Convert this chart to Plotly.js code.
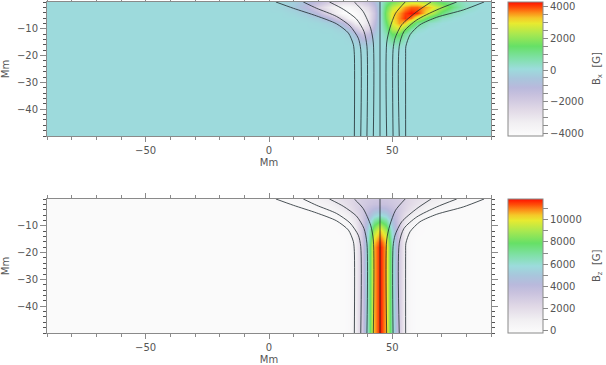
<!DOCTYPE html>
<html><head><meta charset="utf-8">
<script src="https://cdn.plot.ly/plotly-3.0.1.min.js"></script>
<style>html,body{margin:0;padding:0;background:#fff}</style></head>
<body><div id="chart" style="width:606px;height:365px"></div>
<script>
const xGrid=[-90,0,5,10,15,20,25,30,32.5,35,37.5,40,42.5,45,47.5,50,52.5,55,57.5,60,65,70,75,80,85,90];
const yGrid=[0,-2,-4,-6,-8,-10,-12,-14,-16,-18,-25,-50];
const bxValues=[
[0,0,-80,-300,-800,-1400,-2200,-2700,-2700,-2500,-2100,-1700,-1000,0,1000,1700,2100,2500,2700,2700,2200,1400,800,300,80,0],
[0,0,-100,-400,-1100,-2200,-3300,-3800,-3800,-3500,-3000,-2500,-1500,0,1500,2500,3000,3500,3800,3800,3300,2200,1100,400,100,0],
[0,0,0,-120,-400,-1300,-2800,-4100,-4300,-4000,-3500,-3000,-1800,0,1800,3000,3500,4000,4300,4100,2800,1300,400,120,0,0],
[0,0,0,0,-100,-350,-1300,-2700,-3700,-4100,-3600,-3000,-1700,0,1700,3000,3600,4100,3700,2700,1300,350,100,0,0,0],
[0,0,0,0,0,-60,-300,-1100,-2100,-3200,-3500,-2800,-1400,0,1400,2800,3500,3200,2100,1100,300,60,0,0,0,0],
[0,0,0,0,0,0,-40,-300,-800,-1800,-2700,-2300,-1000,0,1000,2300,2700,1800,800,300,40,0,0,0,0,0],
[0,0,0,0,0,0,0,-60,-250,-800,-1600,-1500,-600,0,600,1500,1600,800,250,60,0,0,0,0,0,0],
[0,0,0,0,0,0,0,0,-60,-350,-900,-900,-300,0,300,900,900,350,60,0,0,0,0,0,0,0],
[0,0,0,0,0,0,0,0,0,-100,-350,-400,-120,0,120,400,350,100,0,0,0,0,0,0,0,0],
[0,0,0,0,0,0,0,0,0,0,-60,-100,-30,0,30,100,60,0,0,0,0,0,0,0,0,0],
[0,0,0,0,0,0,0,0,0,0,0,0,0,0,0,0,0,0,0,0,0,0,0,0,0,0],
[0,0,0,0,0,0,0,0,0,0,0,0,0,0,0,0,0,0,0,0,0,0,0,0,0,0]];
const bzValues=[
[0,0,100,280,550,900,1350,1900,2150,2500,2800,3000,3150,3200,3150,3000,2800,2500,2150,1900,1350,900,550,280,100,0],
[0,0,30,100,280,550,1000,1650,2050,2450,2850,3200,3450,3500,3450,3200,2850,2450,2050,1650,1000,550,280,100,30,0],
[0,0,0,0,50,200,500,1150,1650,2300,3000,3700,4400,4700,4400,3700,3000,2300,1650,1150,500,200,50,0,0,0],
[0,0,0,0,0,30,150,600,1100,1900,3000,4200,5400,5900,5400,4200,3000,1900,1100,600,150,30,0,0,0,0],
[0,0,0,0,0,0,50,300,700,1500,2900,4700,6700,7500,6700,4700,2900,1500,700,300,50,0,0,0,0,0],
[0,0,0,0,0,0,0,150,450,1200,3000,5200,8000,9300,8000,5200,3000,1200,450,150,0,0,0,0,0,0],
[0,0,0,0,0,0,0,80,300,1000,3000,5700,9000,10400,9000,5700,3000,1000,300,80,0,0,0,0,0,0],
[0,0,0,0,0,0,0,30,200,900,3000,6000,9800,11000,9800,6000,3000,900,200,30,0,0,0,0,0,0],
[0,0,0,0,0,0,0,0,150,900,3000,6300,10300,11500,10300,6300,3000,900,150,0,0,0,0,0,0,0],
[0,0,0,0,0,0,0,0,150,900,3000,6500,10600,11800,10600,6500,3000,900,150,0,0,0,0,0,0,0],
[0,0,0,0,0,0,0,0,150,900,3000,6500,10600,11800,10600,6500,3000,900,150,0,0,0,0,0,0,0],
[0,0,0,0,0,0,0,0,150,900,3000,6500,10600,11800,10600,6500,3000,900,150,0,0,0,0,0,0,0]];
const line1x=[2.8,9.9,19.3,27.4,32.2,34.2,34.6,34.6], line1y=[0,-2.35,-5.2,-8.15,-11.6,-15.9,-19.6,-50];
const line2x=[13.9,19.3,27.4,32.8,36.2,37.2,37.2], line2y=[0,-2.35,-5.4,-8.9,-13.5,-17.8,-50];
const line3x=[24.5,30.1,35.5,38.5,39.7,39.7], line3y=[0,-2.7,-6.4,-11,-16.5,-50];
const line4x=[34.6,38.2,41.2,42.3,42.3], line4y=[0,-3.6,-9.75,-15.3,-50];
const line5x=[45,45], line5y=[0,-50];
const line6x=[55.2,51.3,49,47.7,47.7], line6y=[0,-4.2,-9.75,-15.3,-50];
const line7x=[65.7,59.9,53.8,51.1,50.3,50.3], line7y=[0,-3.6,-8.5,-13.5,-17.8,-50];
const line8x=[76.1,68,59.9,54.7,52.8,52.8], line8y=[0,-2.95,-6.7,-11,-16.5,-50];
const line9x=[87.2,78.8,68,61.2,57.2,55.5,55.4,55.4], line9y=[0,-2.95,-5.7,-8.5,-12.2,-16.5,-20.3,-50];
const fieldLines=[[line1x,line1y],[line2x,line2y],[line3x,line3y],[line4x,line4y],[line5x,line5y],[line6x,line6y],[line7x,line7y],[line8x,line8y],[line9x,line9y]];
const bxTicks=[-4000,-3500,-3000,-2500,-2000,-1500,-1000,-500,0,500,1000,1500,2000,2500,3000,3500,4000];
const bxLabels=['−4000','','','','−2000','','','','0','','','','2000','','','','4000'];
const bzTicks=[0,1000,2000,3000,4000,5000,6000,7000,8000,9000,10000,11000];
const bzLabels=['0','','2000','','4000','','6000','','8000','','10000',''];

const W=606,H=365,txt='#555555',axc='#8a8a8a';
const fnt={family:'DejaVu Sans, sans-serif',size:10,color:txt};
const scale=[[0,'#fcfcfc'],[.1,'#f1eff2'],[.2,'#e0d8e6'],[.3,'#c9c2de'],[.36,'#b9b9dc'],[.43,'#a8c6dc'],[.5,'#9cdcdc'],[.58,'#80e0a8'],[.67,'#66e066'],[.76,'#a8e850'],[.84,'#e8ea30'],[.88,'#f5c828'],[.92,'#fc8c18'],[.96,'#ff4a08'],[1,'#ff1000']];
function heat(z,xa,ya,zmin,zmax,top,bottom,tv,tt){
  return {type:'heatmap',x:xGrid,y:yGrid,z:z,xaxis:xa,yaxis:ya,zmin:zmin,zmax:zmax,zsmooth:'best',colorscale:scale,hoverinfo:'skip',
    colorbar:{x:508/W,xanchor:'left',xref:'paper',y:1-bottom/H,yanchor:'bottom',yref:'paper',len:(bottom-top)/H,lenmode:'fraction',thickness:35,thicknessmode:'pixels',xpad:0,ypad:0,
      outlinecolor:axc,outlinewidth:1,tickmode:'array',tickvals:tv,ticktext:tt,ticks:'outside',ticklen:5,tickcolor:axc,tickwidth:1,tickfont:fnt,ticklabeloverflow:'allow'}};
}
const data=[
  heat(bxValues,'x','y',-4150,4280,2,136,bxTicks,bxLabels),
  heat(bzValues,'x2','y2',-200,11860,199,333,bzTicks,bzLabels)
];
for(const [xa,ya] of [['x','y'],['x2','y2']]) for(const [lx,ly] of fieldLines)
  data.push({type:'scatter',mode:'lines',x:lx,y:ly,xaxis:xa,yaxis:ya,showlegend:false,hoverinfo:'skip',line:{color:'rgba(30,40,45,.8)',width:1,shape:'spline',smoothing:.7}});
const xax=(anchor)=>({domain:[47/W,491/W],anchor:anchor,range:[-90,90],dtick:50,tick0:0,ticks:'outside',ticklen:5,tickcolor:axc,tickwidth:1,showgrid:false,zeroline:false,showline:true,linecolor:axc,linewidth:1,mirror:'allticks',tickfont:fnt,
  minor:{dtick:10,tick0:0,ticks:'outside',ticklen:3,tickcolor:axc,tickwidth:1,showgrid:false},
  title:{text:'Mm',font:fnt,standoff:3}});
const yax=(anchor,top,bottom)=>({domain:[1-bottom/H,1-top/H],anchor:anchor,range:[-50,0],ticks:'outside',ticklen:6,tickcolor:axc,tickwidth:1,showgrid:false,zeroline:false,showline:true,linecolor:axc,linewidth:1,mirror:'allticks',tickfont:fnt,
  tickvals:[-40,-30,-20,-10],tickmode:'array',
  minor:{dtick:2,tick0:0,ticks:'outside',ticklen:3,tickcolor:'#555',tickwidth:1,showgrid:false},
  title:{text:'Mm',font:fnt,standoff:5}});
const barTitle=(text,py)=>({text:text,xref:'paper',yref:'paper',x:597/W,y:1-py/H,xanchor:'center',yanchor:'middle',textangle:-90,showarrow:false,font:fnt});
const layout={width:W,height:H,margin:{l:0,r:0,t:0,b:0},paper_bgcolor:'#fff',plot_bgcolor:'#fff',showlegend:false,
  xaxis:xax('y'),yaxis:yax('x',2,136),xaxis2:xax('y2'),yaxis2:yax('x2',199,333),
  annotations:[barTitle('B<sub>x</sub>  [G]',69),barTitle('B<sub>z</sub>  [G]',266)]};
Plotly.newPlot('chart',data,layout,{displayModeBar:false,staticPlot:true});
</script></body></html>
